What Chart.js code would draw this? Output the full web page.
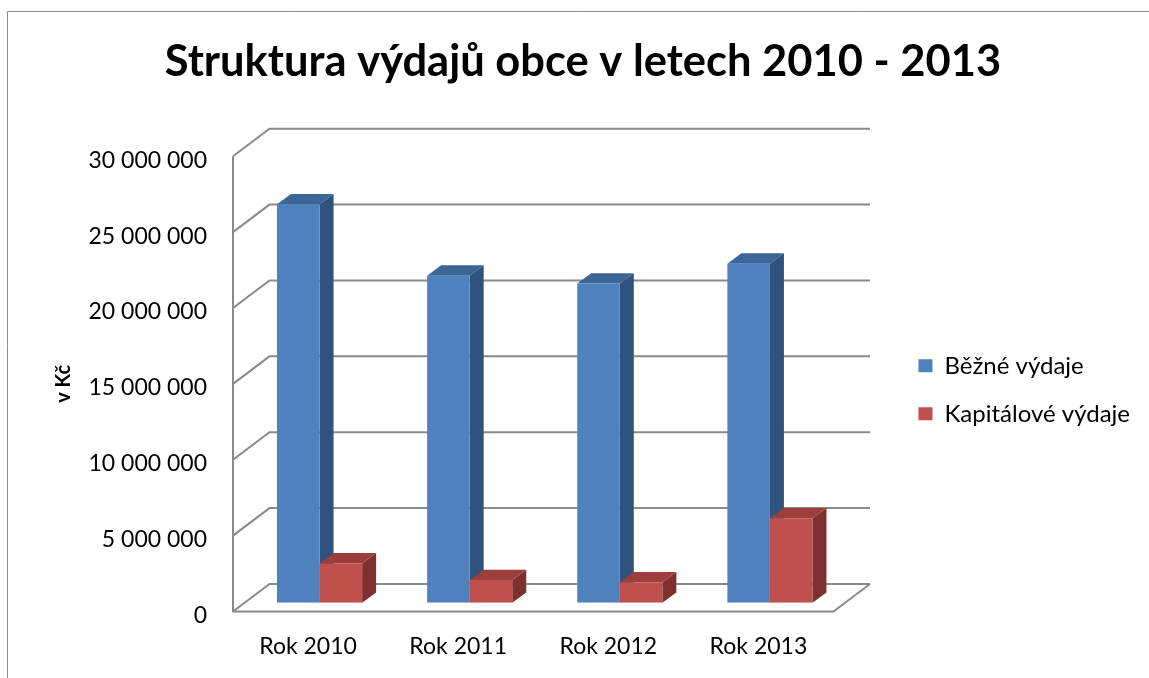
<!DOCTYPE html>
<html>
<head>
<meta charset="utf-8">
<title>Struktura výdajů obce</title>
<script src="https://cdn.jsdelivr.net/npm/chart.js@4.4.0/dist/chart.umd.min.js"></script>
<style>
    html, body { margin: 0; padding: 0; background: #fff; }
    #wrap { width: 1149px; height: 678px; }
</style>
</head>
<body>
<div id="wrap"><canvas id="vydajeChart" width="1149" height="678"></canvas></div>
<script>
// ===========================
// Data
// ===========================
const years = ['Rok 2010', 'Rok 2011', 'Rok 2012', 'Rok 2013'];
const bezneVydaje = [26250000, 21550000, 21030000, 22340000];
const kapitaloveVydaje = [2590000, 1490000, 1340000, 5560000];
const yTicks = [0, 5000000, 10000000, 15000000, 20000000, 25000000, 30000000];

// ===========================
// 3D vzhled (pseudo perspektiva)
// ===========================
const WALL = { dx: 36.5, dy: -27.5 };   // zadni stena proti prednimu okraji
const BAR = { dx: 11.5, dy: -8.8 };     // rovina prednich sten sloupcu
const DEPTH = { dx: 14, dy: -10.3 };    // hloubka sloupce
const GRID_COLOR = '#8a8a8a';

/**
 * Formatuje cislo s mezerami mezi tisici
 */
function formatNumber(v) {
    return String(v).replace(/\B(?=(\d{3})+(?!\d))/g, ' ');
}

function fillPoly(ctx, pts, color) {
    ctx.beginPath();
    ctx.moveTo(pts[0][0], pts[0][1]);
    for (let i = 1; i < pts.length; i++) ctx.lineTo(pts[i][0], pts[i][1]);
    ctx.closePath();
    ctx.fillStyle = color;
    ctx.fill();
}

const pseudo3d = {
    id: 'pseudo3d',
    beforeDraw(chart) {
        // ramecek grafu
        const ctx = chart.ctx;
        ctx.save();
        ctx.strokeStyle = '#8c8c8c';
        ctx.lineWidth = 1;
        ctx.beginPath();
        ctx.moveTo(7.5, chart.height);
        ctx.lineTo(7.5, 11.5);
        ctx.lineTo(chart.width, 11.5);
        ctx.stroke();
        ctx.restore();
    },
    beforeDatasetsDraw(chart) {
        const ctx = chart.ctx;
        const ys = chart.scales.y;
        const area = chart.chartArea;

        ctx.save();

        // mrizka na zadni a bocni stene
        ctx.save();
        ctx.strokeStyle = GRID_COLOR;
        ctx.lineWidth = 2;
        ys.ticks.forEach(t => {
            const y = ys.getPixelForValue(t.value);
            ctx.beginPath();
            ctx.moveTo(area.left, y);
            ctx.lineTo(area.left + WALL.dx, y + WALL.dy);
            ctx.lineTo(area.right + WALL.dx, y + WALL.dy);
            ctx.stroke();
        });
        // predni hrana steny a podlahy
        const y0 = ys.getPixelForValue(0);
        ctx.beginPath();
        ctx.moveTo(area.left, ys.getPixelForValue(ys.max));
        ctx.lineTo(area.left, y0);
        ctx.lineTo(area.right, y0);
        ctx.lineTo(area.right + WALL.dx, y0 + WALL.dy);
        ctx.stroke();
        ctx.restore();

        // horni a bocni steny sloupcu
        ctx.translate(BAR.dx, BAR.dy);
        const metas = chart.getSortedVisibleDatasetMetas();
        for (let i = 0; i < years.length; i++) {
            metas.forEach(meta => {
                const ds = chart.data.datasets[meta.index];
                const p = meta.data[i].getProps(['x', 'y', 'base', 'width'], true);
                const l = p.x - p.width / 2;
                const r = p.x + p.width / 2;
                fillPoly(ctx, [[r, p.y], [r + DEPTH.dx, p.y + DEPTH.dy],
                    [r + DEPTH.dx, p.base + DEPTH.dy], [r, p.base]], ds.sideColor);
                fillPoly(ctx, [[l, p.y], [r, p.y],
                    [r + DEPTH.dx, p.y + DEPTH.dy], [l + DEPTH.dx, p.y + DEPTH.dy]], ds.topColor);
            });
        }
        // predni steny kresli Chart.js v posunute rovine
    },
    afterDatasetsDraw(chart) {
        chart.ctx.restore();
    }
};

Chart.defaults.font.family = 'Lato';
Chart.defaults.color = '#000';

new Chart(document.getElementById('vydajeChart'), {
    type: 'bar',
    data: {
        labels: years,
        datasets: [{
            label: 'Běžné výdaje',
            data: bezneVydaje,
            backgroundColor: '#4F81BD',
            sideColor: '#30527F',
            topColor: '#3C6598',
            borderWidth: 0
        }, {
            label: 'Kapitálové výdaje',
            data: kapitaloveVydaje,
            backgroundColor: '#C0504D',
            sideColor: '#7D302E',
            topColor: '#9C3E3B',
            borderWidth: 0
        }]
    },
    plugins: [pseudo3d],
    options: {
        responsive: false,
        animation: false,
        events: [],
        categoryPercentage: 0.567,
        barPercentage: 1.0,
        layout: { padding: { left: 26, right: 9, top: 0, bottom: 0 } },
        plugins: {
            title: {
                display: true,
                text: 'Struktura výdajů obce v letech 2010 - 2013',
                font: { family: 'Lato', size: 43.5, weight: 'bold' },
                color: '#000',
                padding: { top: 36, bottom: 68 }
            },
            legend: {
                position: 'right',
                align: 'center',
                fullSize: false,
                title: { display: true, text: ' ', font: { size: 10 }, padding: 0 },
                labels: {
                    font: { family: 'Lato', size: 24 },
                    color: '#000',
                    boxWidth: 14,
                    boxHeight: 13,
                    padding: 24
                }
            },
            tooltip: { enabled: false }
        },
        scales: {
            x: {
                grid: { display: false },
                border: { display: false },
                ticks: { font: { size: 23 }, padding: 13 },
                afterFit(s) { s.height = 66.5; }
            },
            y: {
                min: 0,
                max: 30000000,
                grid: { display: false },
                border: { display: false },
                afterBuildTicks(s) { s.ticks = yTicks.map(v => ({ value: v })); },
                ticks: {
                    font: { size: 23, lineHeight: 0.35 },
                    padding: 18,
                    // prazdny prvni radek posune popisek mirne dolu jako v Excelu
                    callback: v => ['', formatNumber(v)]
                },
                title: {
                    display: true,
                    text: 'v Kč',
                    font: { size: 20, weight: 'bold' },
                    padding: { top: 26, bottom: 4 }
                },
                afterFit(s) { s.width = 207; }
            },
            gap: {
                type: 'linear',
                position: 'right',
                display: false,
                min: 0,
                max: 1,
                afterFit(s) { s.width = 61; }
            }
        }
    }
});
</script>
</body>
</html>
